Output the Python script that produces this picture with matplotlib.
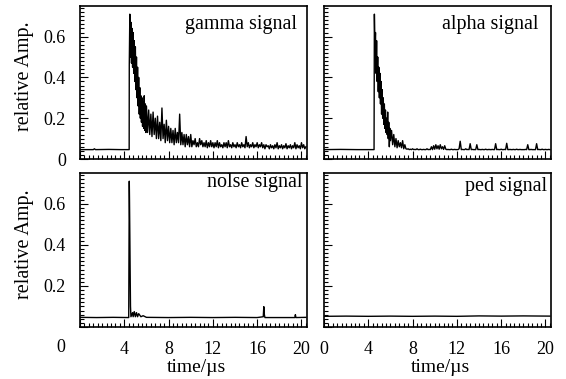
############################ Signaux : gamma / alpha / bruit / piedestal ############################
import numpy as np
import matplotlib
matplotlib.use("Agg")
import matplotlib.pyplot as plt
from matplotlib.ticker import MultipleLocator

plt.rcParams['font.family'] = ['Liberation Serif', 'DejaVu Serif']

# ---- gamma signal ----
gamma_t_base = [0.0, 1.2, 1.3, 1.4, 2.6, 3.7, 4.44]
gamma_v_base = [0.046, 0.046, 0.050, 0.046, 0.047, 0.046, 0.046]
gamma_v_fast = [0.46, 0.71, 0.50, 0.67, 0.47, 0.64, 0.45, 0.62, 0.42, 0.58,
                0.38, 0.55, 0.34, 0.50, 0.30, 0.45, 0.26, 0.40, 0.22, 0.35,
                0.20, 0.31, 0.18, 0.30, 0.16, 0.28, 0.15, 0.31, 0.14, 0.27,
                0.13, 0.26]
gamma_v_slow = [0.13, 0.24, 0.12, 0.22, 0.11, 0.23, 0.12, 0.20, 0.10, 0.21,
                0.10, 0.18, 0.09, 0.25, 0.10, 0.17, 0.08, 0.19, 0.09, 0.16,
                0.08, 0.15, 0.08, 0.14, 0.07, 0.15, 0.08, 0.13, 0.08, 0.22,
                0.07, 0.13, 0.07, 0.12, 0.06, 0.12, 0.07, 0.11, 0.06, 0.12,
                0.06, 0.09, 0.07, 0.10, 0.06, 0.08, 0.06, 0.10, 0.07, 0.09,
                0.06, 0.08, 0.06, 0.09, 0.055, 0.08, 0.06, 0.09, 0.06, 0.08,
                0.055, 0.08, 0.06, 0.09, 0.055, 0.08, 0.06, 0.07, 0.055, 0.08,
                0.06, 0.08, 0.055, 0.09, 0.06, 0.07, 0.055, 0.08, 0.06, 0.07,
                0.055, 0.08, 0.06, 0.07, 0.055, 0.08, 0.06, 0.07, 0.055, 0.11,
                0.06, 0.08, 0.055, 0.07, 0.06, 0.08, 0.055, 0.07, 0.06, 0.08,
                0.055, 0.07, 0.06, 0.08, 0.055, 0.07, 0.05, 0.07, 0.06, 0.065,
                0.05, 0.07, 0.055, 0.065, 0.05, 0.07, 0.055, 0.08, 0.05, 0.065,
                0.055, 0.07, 0.05, 0.065, 0.055, 0.075, 0.05, 0.065, 0.055, 0.07,
                0.05, 0.065, 0.055, 0.08, 0.05, 0.07, 0.055, 0.065, 0.05, 0.08,
                0.055, 0.07, 0.05, 0.06]

# ---- alpha signal ----
alpha_t_base = [0.0, 1.5, 3.0, 4.52]
alpha_v_base = [0.046, 0.047, 0.046, 0.046]
alpha_v_fast = [0.71, 0.55, 0.62, 0.42, 0.58, 0.38, 0.50, 0.33, 0.45, 0.30,
                0.42, 0.27, 0.38, 0.22, 0.34, 0.20, 0.30, 0.17, 0.27, 0.15,
                0.24, 0.13, 0.20, 0.12, 0.23, 0.10, 0.18, 0.06, 0.15, 0.09]
alpha_v_slow = [0.14, 0.07, 0.12, 0.06, 0.10, 0.055, 0.09, 0.06, 0.08, 0.055,
                0.09, 0.05, 0.07, 0.05, 0.048, 0.05, 0.046, 0.048, 0.046, 0.05,
                0.046, 0.047, 0.046, 0.05, 0.046, 0.046, 0.048, 0.046, 0.046, 0.047,
                0.046, 0.046, 0.05, 0.046, 0.047, 0.046, 0.06, 0.046, 0.065, 0.048,
                0.07, 0.05, 0.065, 0.048, 0.07, 0.05, 0.06, 0.047, 0.065, 0.048,
                0.046, 0.047, 0.046, 0.046, 0.048, 0.046, 0.046, 0.047, 0.046, 0.046,
                0.046, 0.05, 0.087, 0.046, 0.047, 0.046, 0.046, 0.05, 0.046, 0.047,
                0.046, 0.075, 0.046, 0.047, 0.046, 0.046, 0.046, 0.07, 0.046, 0.047,
                0.046, 0.046, 0.047, 0.046, 0.046, 0.048, 0.046, 0.046, 0.047, 0.046,
                0.046, 0.047, 0.046, 0.046, 0.075, 0.046, 0.047, 0.046, 0.046, 0.048,
                0.046, 0.046, 0.047, 0.046, 0.077, 0.046, 0.046, 0.047, 0.046, 0.046,
                0.047, 0.046, 0.046, 0.048, 0.046, 0.046, 0.047, 0.046, 0.046, 0.046,
                0.046, 0.047, 0.046, 0.07, 0.046, 0.046, 0.047, 0.046, 0.046, 0.046,
                0.046, 0.075, 0.046, 0.047, 0.046, 0.046, 0.048, 0.046, 0.046, 0.047,
                0.046, 0.046, 0.047, 0.046]

# ---- noise signal ----
noise_t = [0.0, 1.5, 3.0, 4.40, 4.45, 4.47, 4.50, 4.53, 4.56, 4.60, 4.75, 4.8,
           4.9, 5.0, 5.1, 5.2, 5.3, 5.5, 5.7, 6.0, 8.0, 10.0, 12.0, 14.0, 16.0,
           16.55, 16.6, 16.65, 16.7, 17.5, 19.4, 19.45, 19.5, 20.4]
noise_v = [0.047, 0.046, 0.047, 0.046, 0.71, 0.62, 0.45, 0.27, 0.10, 0.05, 0.07,
           0.05, 0.075, 0.05, 0.07, 0.05, 0.065, 0.05, 0.055, 0.047, 0.046, 0.047,
           0.046, 0.047, 0.046, 0.05, 0.099, 0.06, 0.046, 0.046, 0.046, 0.06,
           0.046, 0.047]

# ---- pedestal ----
ped_t = [0.0, 2.0, 4.0, 6.0, 8.0, 10.0, 12.0, 14.0, 16.0, 18.0, 20.4]
ped_v = [0.052, 0.053, 0.052, 0.053, 0.052, 0.053, 0.052, 0.054, 0.053, 0.054, 0.053]

# grilles de temps (pas d'échantillonnage)
gamma_t = np.concatenate([gamma_t_base,
                          np.round(np.arange(4.45, 6.001, 0.05), 2),
                          np.round(np.arange(6.1, 20.41, 0.1), 1)])
gamma_v = np.concatenate([gamma_v_base, gamma_v_fast, gamma_v_slow])
alpha_t = np.concatenate([alpha_t_base,
                          np.round(np.arange(4.55, 6.001, 0.05), 2),
                          np.round(np.arange(6.1, 20.41, 0.1), 1)])
alpha_v = np.concatenate([alpha_v_base, alpha_v_fast, alpha_v_slow])

##################################  Figure #################################
fig = plt.figure(figsize=(5.66, 3.79), dpi=100)

W, H = 566.0, 379.0
def pos(x0, y0, x1, y1):
    return [x0 / W, 1 - y1 / H, (x1 - x0) / W, (y1 - y0) / H]

panels = [
    (pos(80, 6, 307, 159), gamma_t, gamma_v, "gamma signal", 0.955, 0.88, True, False),
    (pos(324, 6, 551, 159), alpha_t, alpha_v, "alpha signal", 0.943, 0.88, False, False),
    (pos(80, 173, 307, 327), noise_t, noise_v, "nolse signal", 0.978, 0.94, True, True),
    (pos(324, 173, 551, 327), ped_t, ped_v, "ped signal", 0.982, 0.915, False, True),
]

for rect, t, v, name, tx, ty, left, bottom in panels:
    ax = fig.add_axes(rect)
    ax.plot(t, v, color="black", linewidth=1.0)
    ax.set_xlim(0, 20.5)
    ax.set_ylim(0, 0.75)

    ax.xaxis.set_major_locator(MultipleLocator(4))
    ax.xaxis.set_minor_locator(MultipleLocator(0.4))
    ax.yaxis.set_major_locator(MultipleLocator(0.2))
    ax.yaxis.set_minor_locator(MultipleLocator(0.02))
    ax.tick_params(which="both", direction="in", top=False, right=False,
                   labelsize=13, pad=10, width=0.8)
    ax.tick_params(which="major", length=6)
    ax.tick_params(which="minor", length=3)
    for s in ax.spines.values():
        s.set_linewidth(1.2)

    ax.set_yticks([0, 0.2, 0.4, 0.6])
    if left and not bottom:
        ax.set_yticklabels(["0", "0.2", "0.4", "0.6"])
    elif left:
        ax.set_yticklabels(["", "0.2", "0.4", "0.6"])
    else:
        ax.set_yticklabels([])

    ax.set_xticks([0, 4, 8, 12, 16, 20])
    if bottom and left:
        ax.set_xticklabels(["", "4", "8", "12", "16", "20"])
    elif bottom:
        ax.set_xticklabels(["0", "4", "8", "12", "16", "20"])
    else:
        ax.set_xticklabels([])

    ax.text(tx, ty, name, transform=ax.transAxes, ha="right", va="center", fontsize=14.5)

# le "0" décalé sous le coin inférieur gauche
fig.text(61 / W, 1 - 347.5 / H, "0", ha="center", va="center", fontsize=13)

# titres des axes
fig.text(24 / W, 1 - 76 / H, "relative Amp.", rotation=90, ha="center", va="center", fontsize=14.5)
fig.text(24 / W, 1 - 244 / H, "relative Amp.", rotation=90, ha="center", va="center", fontsize=14.5)
fig.text(196 / W, 1 - 367 / H, "time/µs", ha="center", va="center", fontsize=14)
fig.text(440 / W, 1 - 367 / H, "time/µs", ha="center", va="center", fontsize=14)

fig.savefig("out.png", dpi=100)
